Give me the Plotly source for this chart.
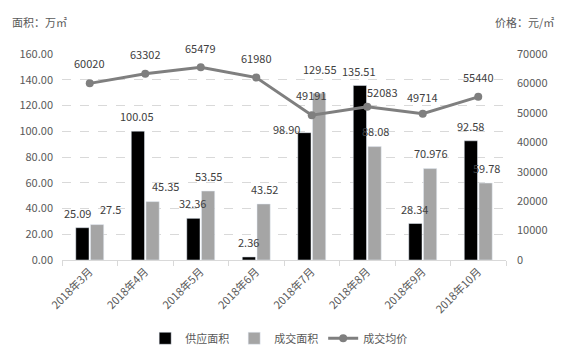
import plotly.graph_objects as go

categories = ["2018年3月", "2018年4月", "2018年5月", "2018年6月",
              "2018年7月", "2018年8月", "2018年9月", "2018年10月"]
supply_area = [25.09, 100.05, 32.36, 2.36, 98.90, 135.51, 28.34, 92.58]
deal_area = [27.5, 45.35, 53.55, 43.52, 129.55, 88.08, 70.976, 59.78]
avg_price = [60020, 63302, 65479, 61980, 49191, 52083, 49714, 55440]

supply_text = ["25.09", "100.05", "32.36", "2.36", "98.90", "135.51", "28.34", "92.58"]
deal_text = ["27.5", "45.35", "53.55", "43.52", "129.55", "88.08", "70.976", "59.78"]
price_text = [str(v) for v in avg_price]

# label offsets (pixels) - style only
supply_dx = [-12, -8, -8, -8, -25, -8, -8, -8]
supply_dy = [15, 15, 15, 15, 4, 15, 15, 15]
deal_dx = [21, 20, 8, 8, 8, 8, 8, 8]
deal_dy = [16, 16, 15, 15, 24, 16, 16, 15]
price_dx = [0, 0, 0, 0, 0, 15, 0, 0]
price_dy = [20, 20, 19, 20, 20, 15, 17, 20]

FONT = "Noto Sans CJK SC, Microsoft YaHei, sans-serif"
LABEL_COLOR = "#404040"
AXIS_COLOR = "#595959"

fig = go.Figure()
fig.add_trace(go.Bar(name="供应面积", x=categories, y=supply_area,
                     marker=dict(color="#000000"), yaxis="y"))
fig.add_trace(go.Bar(name="成交面积", x=categories, y=deal_area,
                     marker=dict(color="#a5a5a5"), yaxis="y"))
fig.add_trace(go.Scatter(name="成交均价", x=categories, y=avg_price, yaxis="y2",
                         mode="lines+markers",
                         line=dict(color="#7f7f7f", width=3),
                         marker=dict(color="#7f7f7f", size=8)))

annotations = []
for c, v, t, dx, dy in zip(categories, supply_area, supply_text, supply_dx, supply_dy):
    annotations.append(dict(x=c, y=v, xref="x", yref="y", text=t, showarrow=False,
                            xshift=dx, yshift=dy, yanchor="middle",
                            font=dict(size=11, color=LABEL_COLOR, family=FONT)))
for c, v, t, dx, dy in zip(categories, deal_area, deal_text, deal_dx, deal_dy):
    annotations.append(dict(x=c, y=v, xref="x", yref="y", text=t, showarrow=False,
                            xshift=dx, yshift=dy, yanchor="middle",
                            font=dict(size=11, color=LABEL_COLOR, family=FONT)))
for c, v, t, dx, dy in zip(categories, avg_price, price_text, price_dx, price_dy):
    annotations.append(dict(x=c, y=v, xref="x", yref="y2", text=t, showarrow=False,
                            xshift=dx, yshift=dy, yanchor="middle",
                            font=dict(size=11, color=LABEL_COLOR, family=FONT)))
annotations.append(dict(text="面积：万㎡", x=0, y=1, xref="paper", yref="paper",
                        xshift=-52, yshift=32, showarrow=False,
                        xanchor="left", yanchor="middle",
                        font=dict(size=11, color=AXIS_COLOR, family=FONT)))
annotations.append(dict(text="价格：元/㎡", x=1, y=1, xref="paper", yref="paper",
                        xshift=50, yshift=32, showarrow=False,
                        xanchor="right", yanchor="middle",
                        font=dict(size=11, color=AXIS_COLOR, family=FONT)))

fig.update_layout(
    width=556, height=347,
    margin=dict(l=54, r=58, t=46, b=95, autoexpand=False),
    paper_bgcolor="white", plot_bgcolor="white",
    barmode="group", bargap=0.47, bargroupgap=0.1,
    font=dict(family=FONT, size=11, color=AXIS_COLOR),
    showlegend=True,
    legend=dict(orientation="h", x=0.488, xanchor="center", y=-0.38, yanchor="middle",
                font=dict(size=11, color=AXIS_COLOR, family=FONT),
                itemwidth=30, tracegroupgap=0),
    xaxis=dict(type="category", tickangle=-45, showline=True, linecolor="#d9d9d9",
               linewidth=1, ticks="outside", tickson="boundaries", ticklen=5,
               tickcolor="#d9d9d9", showgrid=False, automargin=False,
               tickfont=dict(size=11, color=AXIS_COLOR, family=FONT)),
    yaxis=dict(range=[0, 160], dtick=20, tickformat=".2f", showgrid=True,
               gridcolor="#d9d9d9", griddash="dash", gridwidth=1, zeroline=False,
               showline=False, ticks="", ticklabelstandoff=8, automargin=False,
               tickfont=dict(size=11, color=AXIS_COLOR, family=FONT)),
    yaxis2=dict(range=[0, 70000], dtick=10000, tickformat="d", overlaying="y",
                side="right", showgrid=False, zeroline=False, showline=False,
                ticks="", ticklabelstandoff=10, automargin=False,
                tickfont=dict(size=11, color=AXIS_COLOR, family=FONT)),
    annotations=annotations,
)

fig.write_html("out.html")
